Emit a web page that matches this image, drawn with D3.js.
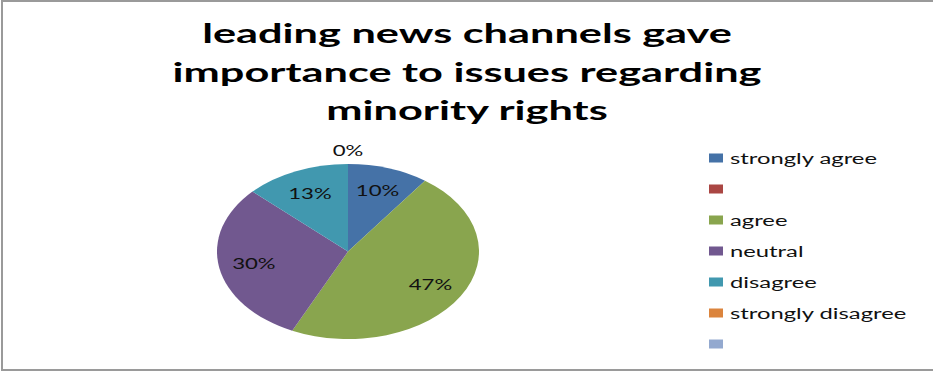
<!DOCTYPE html>
<html>
<head>
<meta charset="utf-8">
<script src="https://cdn.jsdelivr.net/npm/d3@7"></script>
<style>
  html, body { margin: 0; padding: 0; background: #fff; }
  svg { display: block; }
  text { font-family: Lato, "Open Sans", sans-serif; }
</style>
</head>
<body>
<svg id="chart" width="933" height="374"></svg>
<script>
// Survey responses
const titleLines = ["leading news channels gave", "importance to issues regarding", "minority rights"];
const categories = ["strongly agree", "", "agree", "neutral", "disagree", "strongly disagree", ""];
const values = [10, null, 47, 30, 13, 0, null];
const colors = ["#4572A7", "#AA4643", "#89A54E", "#71588F", "#4198AF", "#DB843D", "#93A9CF"];

const svg = d3.select("#chart");
const W = 933, H = 374;

// outer frame
svg.append("rect")
  .attr("x", 2).attr("y", 1)
  .attr("width", W + 10).attr("height", 369)
  .attr("fill", "none")
  .attr("stroke", "#9a9a9a")
  .attr("stroke-width", 2);

// horizontally stretched text helper: scales a text so that its width equals `target`
function stretched(parent, x, y, str, size, weight, anchor, scaleX) {
  const g = parent.append("g").attr("transform", `translate(${x},${y})`);
  const t = g.append("text")
    .attr("font-size", size)
    .attr("font-weight", weight)
    .attr("text-anchor", anchor)
    .attr("fill", "#000")
    .text(str);
  t.attr("transform", `scale(${scaleX},1)`);
  return t;
}
function measure(str, size, weight) {
  const t = svg.append("text").attr("font-size", size).attr("font-weight", weight).text(str);
  const w = t.node().getComputedTextLength();
  t.remove();
  return w;
}

// title
const titleSize = 27;
const titleScale = 530 / measure(titleLines[0], titleSize, "bold");
const titleBaselines = [43, 81.5, 120];
titleLines.forEach((line, i) => {
  stretched(svg, 467, titleBaselines[i], line, titleSize, "bold", "middle", titleScale);
});

// pie (drawn as an ellipse: circle stretched horizontally)
const cx = 348, cy = 251.5, R = 87.5, sx = 131 / 87.5;
const pie = d3.pie().sort(null).value(d => d || 0);
const arcs = pie(values);
const arc = d3.arc().innerRadius(0).outerRadius(R);

const pieG = svg.append("g").attr("transform", `translate(${cx},${cy}) scale(${sx},1)`);
pieG.selectAll("path")
  .data(arcs)
  .join("path")
  .attr("d", arc)
  .attr("fill", (d, i) => colors[i]);

// percentage labels
const labelSize = 16;
const labelScale = 43.5 / measure("47%", labelSize, "normal");
const inner = d3.arc().innerRadius(64).outerRadius(64);
const outer = d3.arc().innerRadius(101.5).outerRadius(101.5);
arcs.forEach((d, i) => {
  if (values[i] === null) return;
  const c = values[i] === 0 ? outer.centroid(d) : inner.centroid(d);
  const t = stretched(svg, cx + c[0] * sx, cy + c[1], values[i] + "%", labelSize, "normal", "middle", labelScale);
  t.attr("dy", "0.36em").attr("fill", "#111");
});

// legend
const legendSize = 16;
const legendScale = 147 / measure("strongly agree", legendSize, "normal");
const legendY = d3.scalePoint().domain(d3.range(categories.length)).range([158, 344]);
categories.forEach((name, i) => {
  const y = legendY(i);
  svg.append("rect")
    .attr("x", 709).attr("y", y - 4.5)
    .attr("width", 14).attr("height", 9)
    .attr("fill", colors[i]);
  if (name) {
    stretched(svg, 730, y + 6, name, legendSize, "normal", "start", legendScale).attr("fill", "#111");
  }
});
</script>
</body>
</html>
